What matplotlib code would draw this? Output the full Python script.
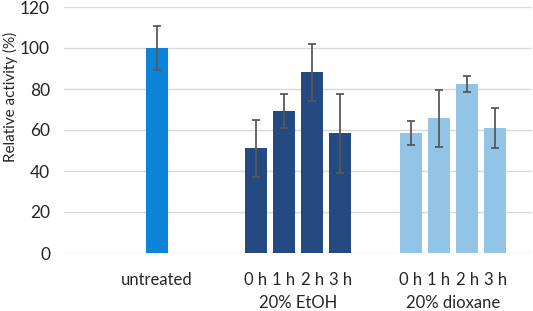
import matplotlib
matplotlib.use("Agg")
import matplotlib.pyplot as plt
from matplotlib.transforms import blended_transform_factory

plt.rcParams['font.family'] = ['Lato', 'DejaVu Sans']

# Data
untreated_value = [100]
untreated_err = [10.5]
time_labels = ["0 h", "1 h", "2 h", "3 h"]
etoh_values = [51.1, 69.3, 88.1, 58.4]
etoh_err = [14.0, 8.5, 13.8, 19.3]
dioxane_values = [58.5, 65.7, 82.4, 61.0]
dioxane_err = [5.9, 14.0, 3.8, 9.8]
group_labels = ["20% EtOH", "20% dioxane"]
yticks = [0, 20, 40, 60, 80, 100, 120]

c_untreated = "#0B84D9"
c_etoh = "#254A82"
c_diox = "#92C4E5"
c_err = "#595959"
c_text = "#262626"

x_untr = [0]
x_etoh = [3.5, 4.5, 5.5, 6.5]
x_diox = [9, 10, 11, 12]

fig = plt.figure(figsize=(5.33, 3.11), dpi=100)
ax = fig.add_axes([64/533, 1-253/311, (532-64)/533, (253-7)/311])

w = 0.79
ekw = dict(ecolor=c_err, elinewidth=1.3, capsize=3, capthick=1.3)
ax.bar(x_untr, untreated_value, width=w, color=c_untreated, yerr=untreated_err, error_kw=ekw, zorder=3)
ax.bar(x_etoh, etoh_values, width=w, color=c_etoh, yerr=etoh_err, error_kw=ekw, zorder=3)
ax.bar(x_diox, dioxane_values, width=w, color=c_diox, yerr=dioxane_err, error_kw=ekw, zorder=3)

ax.set_xlim(-3.3, 13.3)
ax.set_ylim(0, 120)
ax.set_yticks(yticks)
ax.set_yticklabels([str(v) for v in yticks], fontsize=12.5, color=c_text)
ax.yaxis.grid(True, color="#D9D9D9", linewidth=1.0, zorder=0)
ax.set_axisbelow(True)
for s in ax.spines.values():
    s.set_visible(False)
ax.tick_params(axis='both', length=0)
ax.tick_params(axis='y', pad=10)

ax.set_xticks(x_untr + x_etoh + x_diox)
ax.set_xticklabels(["untreated"] + time_labels + time_labels, fontsize=12, color=c_text)
ax.tick_params(axis='x', pad=14)

ax.set_ylabel("Relative activity (%)", fontsize=11, color=c_text, va='center')
ax.yaxis.set_label_coords(-54/468, (253-97)/246)

trans = blended_transform_factory(ax.transData, ax.transAxes)
ax.text(sum(x_etoh)/4, -50/246, group_labels[0], transform=trans, ha='center', va='center', fontsize=12, color=c_text)
ax.text(sum(x_diox)/4, -50/246, group_labels[1], transform=trans, ha='center', va='center', fontsize=12, color=c_text)

fig.savefig("out.png", dpi=100)
